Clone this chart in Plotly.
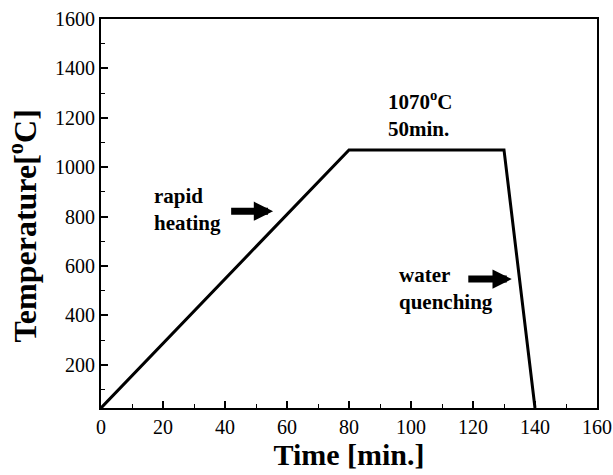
import plotly.graph_objects as go

time_min = [0, 80, 130, 140]
temp_c = [25, 1070, 1070, 25]

x_ticks = [0, 20, 40, 60, 80, 100, 120, 140, 160]
y_ticks = [200, 400, 600, 800, 1000, 1200, 1400, 1600]

font_family = "Liberation Serif, Times New Roman, serif"

fig = go.Figure()
fig.add_trace(go.Scatter(x=time_min, y=temp_c, mode="lines",
                         line=dict(color="black", width=3), showlegend=False))

axis_common = dict(showgrid=False, zeroline=False, showline=True, linecolor="black",
                   linewidth=2, mirror=True, ticks="inside", ticklen=7, tickwidth=1.5,
                   automargin=False,
                   tickfont=dict(family=font_family, size=20, color="black"), tickcolor="black")

fig.update_xaxes(range=[0, 160], tickvals=x_ticks,
                 minor=dict(dtick=10, ticks="inside", ticklen=4, tickcolor="black", tickwidth=1),
                 title=dict(text="<b>Time [min.]</b>", font=dict(family=font_family, size=30, color="black"), standoff=6),
                 **axis_common)
fig.update_yaxes(range=[25, 1600], tickvals=y_ticks,
                 minor=dict(dtick=100, tick0=0, ticks="inside", ticklen=4, tickcolor="black", tickwidth=1),
                 **axis_common)

fig.add_annotation(x=-0.158, y=0.468, xref="paper", yref="paper", textangle=-90,
                   text="<b>Temperature[<sup>o</sup>C]</b>", showarrow=False,
                   xanchor="center", yanchor="middle",
                   font=dict(family=font_family, size=32, color="black"))

ann_font = dict(family=font_family, size=21, color="black")
fig.add_annotation(x=92, y=1214, xref="x", yref="y", text="<b>1070<sup>o</sup>C<br>50min.</b>",
                   showarrow=False, xanchor="left", align="left", font=ann_font)
fig.add_annotation(x=16.5, y=830, xref="x", yref="y", text="<b>rapid<br>heating</b>",
                   showarrow=False, xanchor="left", align="left", font=ann_font)
fig.add_annotation(x=95.5, y=507, xref="x", yref="y", text="<b>water<br>quenching</b>",
                   showarrow=False, xanchor="left", align="left", font=ann_font)

for (x0, x1, yv) in [(41.5, 55.5, 822), (118, 132.5, 547)]:
    fig.add_annotation(x=x1, y=yv, ax=x0, ay=yv, xref="x", yref="y", axref="x", ayref="y",
                       text="", showarrow=True, arrowhead=2, arrowsize=0.55, arrowwidth=7,
                       arrowcolor="black")

fig.update_layout(width=613, height=475, margin=dict(l=101, r=16, t=19, b=67),
                  plot_bgcolor="white", paper_bgcolor="white")

fig.write_html("out.html", config={"displayModeBar": False},
               post_script="document.body.style.margin='0';document.body.style.padding='0';document.body.style.overflow='hidden';")
